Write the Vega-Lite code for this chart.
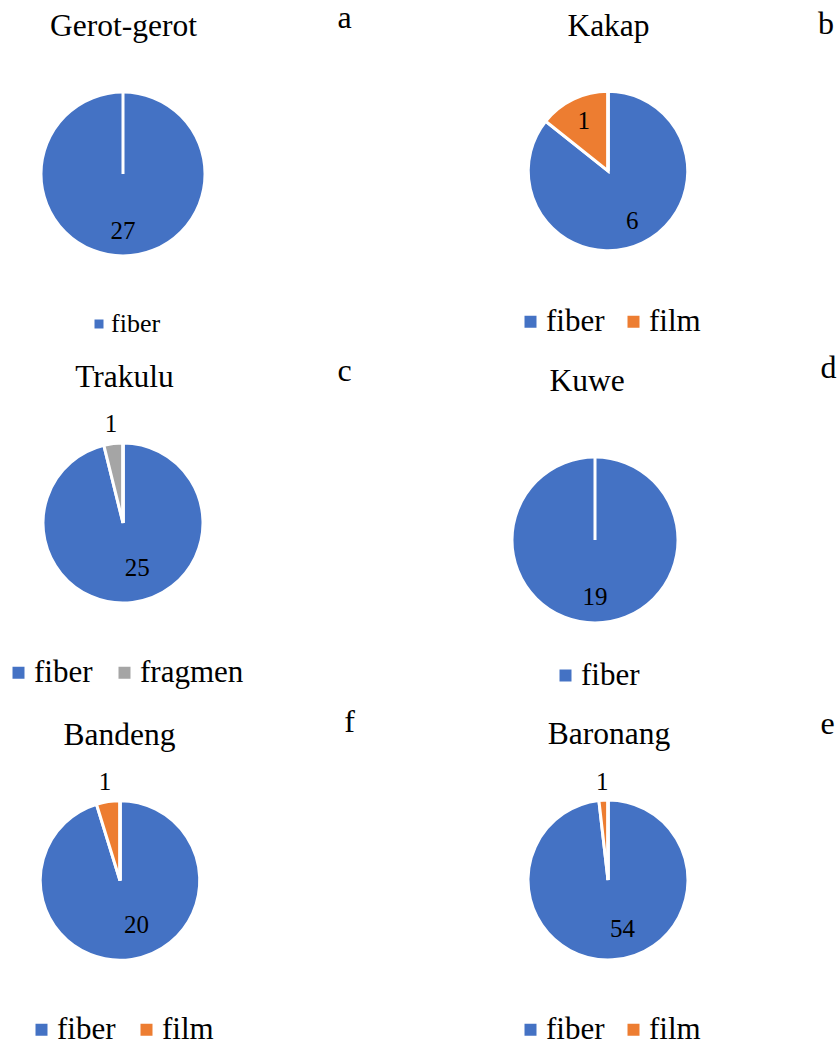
{
  "$schema": "https://vega.github.io/schema/vega-lite/v6.json",
  "background": "white",
  "padding": {"left": 3, "top": 1, "right": 0, "bottom": 0},
  "data": {"values": [
    {"fish": "Gerot-gerot", "letter": "a", "type": "fiber", "n": 27},
    {"fish": "Kakap", "letter": "b", "type": "fiber", "n": 6},
    {"fish": "Kakap", "letter": "b", "type": "film", "n": 1},
    {"fish": "Trakulu", "letter": "c", "type": "fiber", "n": 25},
    {"fish": "Trakulu", "letter": "c", "type": "fragmen", "n": 1},
    {"fish": "Kuwe", "letter": "d", "type": "fiber", "n": 19},
    {"fish": "Bandeng", "letter": "f", "type": "fiber", "n": 20},
    {"fish": "Bandeng", "letter": "f", "type": "film", "n": 1},
    {"fish": "Baronang", "letter": "e", "type": "fiber", "n": 54},
    {"fish": "Baronang", "letter": "e", "type": "film", "n": 1}
  ]},
  "columns": 2,
  "bounds": "flush",
  "spacing": {"row": 130, "column": 245},
  "resolve": {"scale": {"color": "independent", "theta": "independent"}, "legend": {"color": "independent"}},
  "concat": [
    {
      "width": 240, "height": 240,
      "transform": [{"filter": "datum.fish === 'Gerot-gerot'"}, {"joinaggregate": [{"op": "sum", "field": "n", "as": "total"}]}],
      "layer": [
        {"mark": {"type": "arc", "outerRadius": 82, "stroke": "white", "strokeWidth": 3},
         "encoding": {
           "theta": {"field": "n", "type": "quantitative", "stack": true},
           "order": {"field": "type"},
           "color": {"field": "type", "type": "nominal", "scale": {"domain": ["fiber"], "range": ["#4472C4"]},
             "legend": {"orient": "bottom", "direction": "horizontal", "title": null, "symbolType": "square", "symbolSize": 81, "symbolStrokeWidth": 0, "labelFont": "Liberation Serif", "labelFontSize": 26, "labelOffset": -1, "offset": 16.5}}}},
        {"mark": {"type": "arc", "outerRadius": 82, "stroke": "white", "strokeWidth": 3, "fillOpacity": 0},
         "encoding": {"theta": {"value": 0}, "theta2": {"value": 0}}},
        {"mark": {"type": "text", "radius": 57, "fontSize": 25, "font": "Liberation Serif"},
         "encoding": {"theta": {"field": "n", "type": "quantitative", "stack": true}, "order": {"field": "type"}, "detail": {"field": "type"},
           "text": {"condition": {"test": "datum.n / datum.total >= 0.1", "field": "n", "type": "nominal"}, "value": ""}}},
        {"mark": {"type": "text", "radius": 100, "fontSize": 25, "font": "Liberation Serif"},
         "encoding": {"theta": {"field": "n", "type": "quantitative", "stack": true}, "order": {"field": "type"}, "detail": {"field": "type"},
           "text": {"condition": {"test": "datum.n / datum.total < 0.1", "field": "n", "type": "nominal"}, "value": ""}}},
        {"transform": [{"filter": "datum.type === 'fiber'"}],
         "mark": {"type": "text", "fontSize": 31.5, "font": "Liberation Serif", "dx": 0.5, "dy": -138.5, "baseline": "alphabetic"},
         "encoding": {"text": {"field": "fish"}}},
        {"transform": [{"filter": "datum.type === 'fiber'"}],
         "mark": {"type": "text", "fontSize": 32, "font": "Liberation Serif", "dx": 221.5, "dy": -146.5, "baseline": "alphabetic"},
         "encoding": {"text": {"field": "letter"}}}
      ]
    },
    {
      "width": 240, "height": 234,
      "transform": [{"filter": "datum.fish === 'Kakap'"}, {"joinaggregate": [{"op": "sum", "field": "n", "as": "total"}]}],
      "layer": [
        {"mark": {"type": "arc", "outerRadius": 79.75, "stroke": "white", "strokeWidth": 3},
         "encoding": {
           "theta": {"field": "n", "type": "quantitative", "stack": true},
           "order": {"field": "type"},
           "color": {"field": "type", "type": "nominal", "scale": {"domain": ["fiber", "film"], "range": ["#4472C4", "#ED7D31"]},
             "legend": {"orient": "bottom", "direction": "horizontal", "title": null, "symbolType": "square", "symbolSize": 144, "symbolStrokeWidth": 0, "labelFont": "Liberation Serif", "labelFontSize": 31, "labelOffset": 0, "columnPadding": 13, "offset": 17.5}}}},
        {"mark": {"type": "arc", "outerRadius": 79.75, "stroke": "white", "strokeWidth": 3, "fillOpacity": 0},
         "encoding": {"theta": {"value": 0}, "theta2": {"value": 0}}},
        {"mark": {"type": "text", "radius": 56, "fontSize": 25, "font": "Liberation Serif"},
         "encoding": {"theta": {"field": "n", "type": "quantitative", "stack": true}, "order": {"field": "type"}, "detail": {"field": "type"},
           "text": {"condition": {"test": "datum.n / datum.total >= 0.1", "field": "n", "type": "nominal"}, "value": ""}}},
        {"mark": {"type": "text", "radius": 100, "fontSize": 25, "font": "Liberation Serif"},
         "encoding": {"theta": {"field": "n", "type": "quantitative", "stack": true}, "order": {"field": "type"}, "detail": {"field": "type"},
           "text": {"condition": {"test": "datum.n / datum.total < 0.1", "field": "n", "type": "nominal"}, "value": ""}}},
        {"transform": [{"filter": "datum.type === 'fiber'"}],
         "mark": {"type": "text", "fontSize": 31.5, "font": "Liberation Serif", "dx": 0.5, "dy": -135.5, "baseline": "alphabetic"},
         "encoding": {"text": {"field": "fish"}}},
        {"transform": [{"filter": "datum.type === 'fiber'"}],
         "mark": {"type": "text", "fontSize": 32, "font": "Liberation Serif", "dx": 218, "dy": -137.5, "baseline": "alphabetic"},
         "encoding": {"text": {"field": "letter"}}}
      ]
    },
    {
      "width": 240, "height": 198,
      "transform": [{"filter": "datum.fish === 'Trakulu'"}, {"joinaggregate": [{"op": "sum", "field": "n", "as": "total"}]}],
      "layer": [
        {"mark": {"type": "arc", "outerRadius": 80, "stroke": "white", "strokeWidth": 3},
         "encoding": {
           "theta": {"field": "n", "type": "quantitative", "stack": true},
           "order": {"field": "type"},
           "color": {"field": "type", "type": "nominal", "scale": {"domain": ["fiber", "fragmen"], "range": ["#4472C4", "#A5A5A5"]},
             "legend": {"orient": "bottom", "direction": "horizontal", "title": null, "symbolType": "square", "symbolSize": 144, "symbolStrokeWidth": 0, "labelFont": "Liberation Serif", "labelFontSize": 31, "labelOffset": 0, "columnPadding": 16, "offset": 35}}}},
        {"mark": {"type": "arc", "outerRadius": 80, "stroke": "white", "strokeWidth": 3, "fillOpacity": 0},
         "encoding": {"theta": {"value": 0}, "theta2": {"value": 0}}},
        {"mark": {"type": "text", "radius": 47, "dx": 8.7, "dy": -2, "fontSize": 25, "font": "Liberation Serif"},
         "encoding": {"theta": {"field": "n", "type": "quantitative", "stack": true}, "order": {"field": "type"}, "detail": {"field": "type"},
           "text": {"condition": {"test": "datum.n / datum.total >= 0.1", "field": "n", "type": "nominal"}, "value": ""}}},
        {"mark": {"type": "text", "radius": 100, "fontSize": 25, "font": "Liberation Serif"},
         "encoding": {"theta": {"field": "n", "type": "quantitative", "stack": true}, "order": {"field": "type"}, "detail": {"field": "type"},
           "text": {"condition": {"test": "datum.n / datum.total < 0.1", "field": "n", "type": "nominal"}, "value": ""}}},
        {"transform": [{"filter": "datum.type === 'fiber'"}],
         "mark": {"type": "text", "fontSize": 31.5, "font": "Liberation Serif", "dx": 1.5, "dy": -136.5, "baseline": "alphabetic"},
         "encoding": {"text": {"field": "fish"}}},
        {"transform": [{"filter": "datum.type === 'fiber'"}],
         "mark": {"type": "text", "fontSize": 32, "font": "Liberation Serif", "dx": 221.5, "dy": -142.5, "baseline": "alphabetic"},
         "encoding": {"text": {"field": "letter"}}}
      ]
    },
    {
      "width": 214, "height": 232,
      "transform": [{"filter": "datum.fish === 'Kuwe'"}, {"joinaggregate": [{"op": "sum", "field": "n", "as": "total"}]}],
      "layer": [
        {"mark": {"type": "arc", "outerRadius": 83, "stroke": "white", "strokeWidth": 3},
         "encoding": {
           "theta": {"field": "n", "type": "quantitative", "stack": true},
           "order": {"field": "type"},
           "color": {"field": "type", "type": "nominal", "scale": {"domain": ["fiber"], "range": ["#4472C4"]},
             "legend": {"orient": "bottom", "direction": "horizontal", "title": null, "symbolType": "square", "symbolSize": 144, "symbolStrokeWidth": 0, "labelFont": "Liberation Serif", "labelFontSize": 31, "labelOffset": 0, "offset": 4}}}},
        {"mark": {"type": "arc", "outerRadius": 83, "stroke": "white", "strokeWidth": 3, "fillOpacity": 0},
         "encoding": {"theta": {"value": 0}, "theta2": {"value": 0}}},
        {"mark": {"type": "text", "radius": 56.5, "fontSize": 25, "font": "Liberation Serif"},
         "encoding": {"theta": {"field": "n", "type": "quantitative", "stack": true}, "order": {"field": "type"}, "detail": {"field": "type"},
           "text": {"condition": {"test": "datum.n / datum.total >= 0.1", "field": "n", "type": "nominal"}, "value": ""}}},
        {"transform": [{"filter": "datum.type === 'fiber'"}],
         "mark": {"type": "text", "fontSize": 31.5, "font": "Liberation Serif", "dx": -8, "dy": -149.5, "baseline": "alphabetic"},
         "encoding": {"text": {"field": "fish"}}},
        {"transform": [{"filter": "datum.type === 'fiber'"}],
         "mark": {"type": "text", "fontSize": 32, "font": "Liberation Serif", "dx": 233.5, "dy": -162.5, "baseline": "alphabetic"},
         "encoding": {"text": {"field": "letter"}}}
      ]
    },
    {
      "width": 234, "height": 189,
      "transform": [{"filter": "datum.fish === 'Bandeng'"}, {"joinaggregate": [{"op": "sum", "field": "n", "as": "total"}]}],
      "layer": [
        {"mark": {"type": "arc", "outerRadius": 79.75, "stroke": "white", "strokeWidth": 3},
         "encoding": {
           "theta": {"field": "n", "type": "quantitative", "stack": true},
           "order": {"field": "type"},
           "color": {"field": "type", "type": "nominal", "scale": {"domain": ["fiber", "film"], "range": ["#4472C4", "#ED7D31"]},
             "legend": {"orient": "bottom", "direction": "horizontal", "title": null, "symbolType": "square", "symbolSize": 144, "symbolStrokeWidth": 0, "labelFont": "Liberation Serif", "labelFontSize": 31, "labelOffset": 0, "columnPadding": 15, "offset": 38.5}}}},
        {"mark": {"type": "arc", "outerRadius": 79.75, "stroke": "white", "strokeWidth": 3, "fillOpacity": 0},
         "encoding": {"theta": {"value": 0}, "theta2": {"value": 0}}},
        {"mark": {"type": "text", "radius": 47, "dx": 9.5, "dy": -1.5, "fontSize": 25, "font": "Liberation Serif"},
         "encoding": {"theta": {"field": "n", "type": "quantitative", "stack": true}, "order": {"field": "type"}, "detail": {"field": "type"},
           "text": {"condition": {"test": "datum.n / datum.total >= 0.1", "field": "n", "type": "nominal"}, "value": ""}}},
        {"mark": {"type": "text", "radius": 100, "fontSize": 25, "font": "Liberation Serif"},
         "encoding": {"theta": {"field": "n", "type": "quantitative", "stack": true}, "order": {"field": "type"}, "detail": {"field": "type"},
           "text": {"condition": {"test": "datum.n / datum.total < 0.1", "field": "n", "type": "nominal"}, "value": ""}}},
        {"transform": [{"filter": "datum.type === 'fiber'"}],
         "mark": {"type": "text", "fontSize": 31.5, "font": "Liberation Serif", "dx": -0.5, "dy": -136, "baseline": "alphabetic"},
         "encoding": {"text": {"field": "fish"}}},
        {"transform": [{"filter": "datum.type === 'fiber'"}],
         "mark": {"type": "text", "fontSize": 32, "font": "Liberation Serif", "dx": 229.5, "dy": -149, "baseline": "alphabetic"},
         "encoding": {"text": {"field": "letter"}}}
      ]
    },
    {
      "width": 240, "height": 188,
      "transform": [{"filter": "datum.fish === 'Baronang'"}, {"joinaggregate": [{"op": "sum", "field": "n", "as": "total"}]}],
      "layer": [
        {"mark": {"type": "arc", "outerRadius": 80, "stroke": "white", "strokeWidth": 3},
         "encoding": {
           "theta": {"field": "n", "type": "quantitative", "stack": true},
           "order": {"field": "type"},
           "color": {"field": "type", "type": "nominal", "scale": {"domain": ["fiber", "film"], "range": ["#4472C4", "#ED7D31"]},
             "legend": {"orient": "bottom", "direction": "horizontal", "title": null, "symbolType": "square", "symbolSize": 144, "symbolStrokeWidth": 0, "labelFont": "Liberation Serif", "labelFontSize": 31, "labelOffset": 0, "columnPadding": 13, "offset": 39.5}}}},
        {"mark": {"type": "arc", "outerRadius": 80, "stroke": "white", "strokeWidth": 3, "fillOpacity": 0},
         "encoding": {"theta": {"value": 0}, "theta2": {"value": 0}}},
        {"mark": {"type": "text", "radius": 49.3, "dx": 11.7, "dy": -0.7, "fontSize": 25, "font": "Liberation Serif"},
         "encoding": {"theta": {"field": "n", "type": "quantitative", "stack": true}, "order": {"field": "type"}, "detail": {"field": "type"},
           "text": {"condition": {"test": "datum.n / datum.total >= 0.1", "field": "n", "type": "nominal"}, "value": ""}}},
        {"mark": {"type": "text", "radius": 98.6, "fontSize": 25, "font": "Liberation Serif"},
         "encoding": {"theta": {"field": "n", "type": "quantitative", "stack": true}, "order": {"field": "type"}, "detail": {"field": "type"},
           "text": {"condition": {"test": "datum.n / datum.total < 0.1", "field": "n", "type": "nominal"}, "value": ""}}},
        {"transform": [{"filter": "datum.type === 'fiber'"}],
         "mark": {"type": "text", "fontSize": 31.5, "font": "Liberation Serif", "dx": 1, "dy": -136.2, "baseline": "alphabetic"},
         "encoding": {"text": {"field": "fish"}}},
        {"transform": [{"filter": "datum.type === 'fiber'"}],
         "mark": {"type": "text", "fontSize": 32, "font": "Liberation Serif", "dx": 219.5, "dy": -146.5, "baseline": "alphabetic"},
         "encoding": {"text": {"field": "letter"}}}
      ]
    }
  ],
  "config": {
    "font": "Liberation Serif",
    "view": {"stroke": "transparent"},
    "text": {"color": "#000", "font": "Liberation Serif"},
    "legend": {"labelColor": "#000", "labelFont": "Liberation Serif", "layout": {"bottom": {"anchor": "middle"}}}
  }
}
